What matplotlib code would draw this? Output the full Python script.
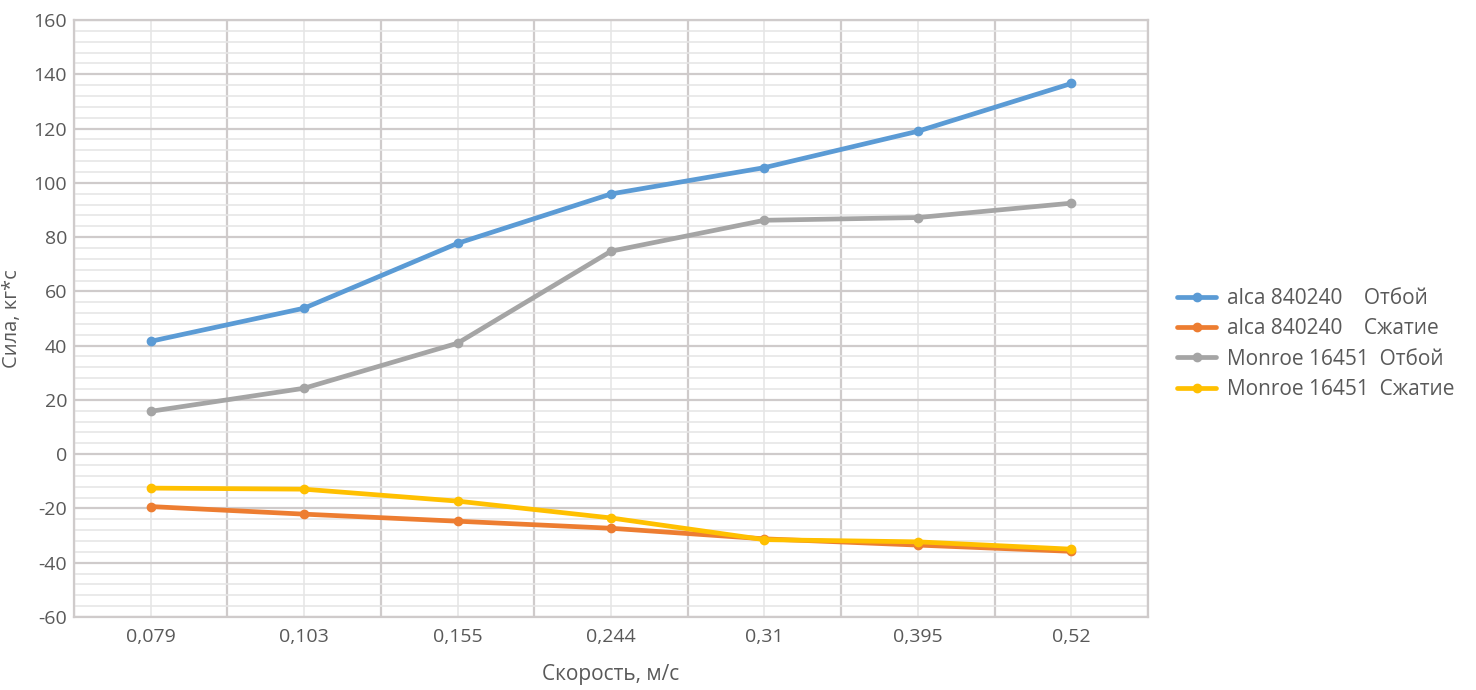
import numpy as np
import matplotlib
matplotlib.use("Agg")
from matplotlib import pyplot as plt
from matplotlib.ticker import MultipleLocator, FixedLocator

plt.rcParams['font.family'] = ['Open Sans', 'DejaVu Sans']
plt.rcParams['axes.unicode_minus'] = False

speeds = ['0,079', '0,103', '0,155', '0,244', '0,31', '0,395', '0,52']
alca_otboy = [41.6, 53.8, 77.7, 95.9, 105.6, 119.0, 136.6]
alca_szhatie = [-19.3, -22.1, -24.7, -27.3, -31.2, -33.5, -35.8]
monroe_otboy = [15.8, 24.3, 40.9, 74.8, 86.2, 87.2, 92.5]
monroe_szhatie = [-12.5, -12.9, -17.3, -23.5, -31.5, -32.3, -35.0]

series = [
    ('alca 840240    Отбой', alca_otboy, '#5B9BD5'),
    ('alca 840240    Сжатие', alca_szhatie, '#ED7D31'),
    ('Monroe 16451  Отбой', monroe_otboy, '#A5A5A5'),
    ('Monroe 16451  Сжатие', monroe_szhatie, '#FFC000'),
]

txt = '#595959'
fig = plt.figure(figsize=(14.76, 6.9), dpi=100)
ax = fig.add_axes([74/1476, 1 - 617/690, (1148 - 74)/1476, (617 - 20)/690])

x = np.arange(len(speeds))
for name, vals, col in series:
    ax.plot(x, vals, color=col, lw=3.4, marker='o', ms=6, label=name,
            solid_capstyle='round', zorder=3)

ax.set_xlim(-0.5, len(speeds) - 0.5)
ax.set_ylim(-60, 160)
ax.set_xticks(x)
ax.set_xticklabels(speeds)
ax.xaxis.set_minor_locator(FixedLocator(np.arange(-0.5, len(speeds), 1)))
ax.yaxis.set_major_locator(MultipleLocator(20))
ax.yaxis.set_minor_locator(MultipleLocator(4))

ax.grid(which='major', axis='y', color='#CFCBCB', lw=1.6, zorder=0)
ax.grid(which='minor', axis='y', color='#E6E6E6', lw=1.2, zorder=0)
ax.grid(which='minor', axis='x', color='#CFCBCB', lw=1.6, zorder=0)
ax.grid(which='major', axis='x', color='#E6E6E6', lw=1.2, zorder=0)
ax.set_axisbelow(True)
for s in ax.spines.values():
    s.set_color('#CFCBCB')
    s.set_linewidth(1.6)

ax.tick_params(which='both', length=0, labelsize=14, colors=txt)
ax.tick_params(axis='x', pad=8)
ax.tick_params(axis='y', pad=5)

ax.set_xlabel('Скорость, м/с', fontsize=15, color=txt, labelpad=13)
ax.set_ylabel('Сила, кг*с', fontsize=14.5, color=txt, labelpad=8)

fig.legend(loc='center left', bbox_to_anchor=(1158/1476, 346/690), frameon=False,
           fontsize=15, labelcolor=txt, handlelength=1.9, labelspacing=0.45,
           handletextpad=0.5)

fig.savefig('out.png', dpi=100, facecolor='white')
